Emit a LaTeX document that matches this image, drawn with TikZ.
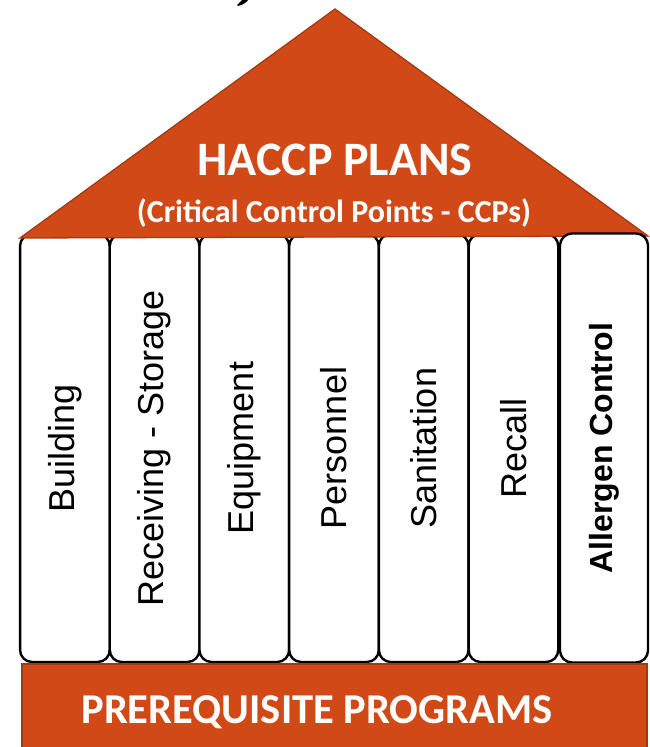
\documentclass[tikz,border=0pt]{standalone}
\usepackage{fontspec}
\setmainfont{Carlito}
\newfontfamily\pillarfont{Liberation Sans}
\definecolor{roofred}{HTML}{D14917}
\definecolor{roofedge}{HTML}{A33A12}
\begin{document}
\begin{tikzpicture}[x=1pt,y=-1pt,
  pillar/.style={draw=black, line width=2.4pt, fill=white, rounded corners=12pt,
    rotate=90, minimum width=428pt, minimum height=89.7pt, inner sep=0pt,
    font=\pillarfont\fontsize{36}{40}\selectfont},
  boldpillar/.style={pillar, font=\pillarfont\bfseries\fontsize{32}{38}\selectfont},
  redblock/.style={fill=roofred, draw=roofedge, line width=1.3pt},
  whitetext/.style={text=white, inner sep=0pt, anchor=base, font=\bfseries}]
\useasboundingbox (0,0) rectangle (650,747);
\clip (0,0) rectangle (650,747);

% tail of a heading letter above the roof
\fill[black] (237,5) .. controls (240,2) and (242,0) .. (243,-1) -- (249,-1)
  .. controls (247,2) and (243,5) .. (238,6) -- cycle;

% pillars standing under the roof
\node[pillar] (building)  at (64.9,448)  {Building};
\node[pillar] (receiving) at (154.6,448) {Receiving - Storage};
\node[pillar] (equipment) at (244.3,448) {Equipment};
\node[pillar] (personnel) at (334.0,448) {Personnel};
\node[pillar] (sanitation) at (423.7,448) {Sanitation};
\node[pillar] (recall)    at (513.4,448) {Recall};

% roof
\coordinate (eaveL) at (20,238);
\coordinate (apex) at (335,9);
\coordinate (eaveR) at (648,236);
\path[redblock] (eaveL) -- (apex) -- (eaveR) -- cycle;
\node[whitetext, font=\bfseries\fontsize{48}{56}\selectfont] (haccp) at (335,175) {HACCP PLANS};
\node[whitetext, font=\bfseries\fontsize{32}{38}\selectfont] (ccp) at (334,222) {(Critical Control Points - CCPs)};

% last pillar overlaps the roof edge
\node[boldpillar, minimum width=429pt, minimum height=88pt] (allergen) at (604,448) {Allergen Control};

% foundation
\path[redblock] (22,664) rectangle (647,770);
\node[whitetext, font=\bfseries\fontsize{42.5}{50}\selectfont] (prereq) at (317,723) {PREREQUISITE PROGRAMS};
\end{tikzpicture}
\end{document}
